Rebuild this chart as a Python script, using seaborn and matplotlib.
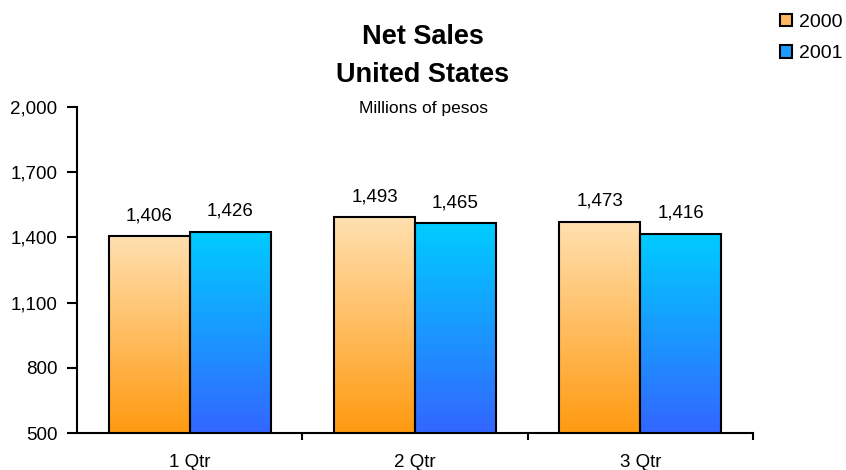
import numpy as np
import pandas as pd
import matplotlib
matplotlib.use("Agg")
import matplotlib.pyplot as plt
import seaborn as sns
from matplotlib.colors import LinearSegmentedColormap
from matplotlib.patches import Patch

quarters = ["1 Qtr", "2 Qtr", "3 Qtr"]
years = ["2000", "2001"]
sales_2000 = [1406, 1493, 1473]
sales_2001 = [1426, 1465, 1416]
yticks = [500, 800, 1100, 1400, 1700, 2000]

df = pd.DataFrame({
    "quarter": quarters * 2,
    "year": [years[0]] * 3 + [years[1]] * 3,
    "sales": sales_2000 + sales_2001,
})

sns.set_style("white")
plt.rcParams["font.family"] = ["Liberation Sans", "DejaVu Sans"]
plt.rcParams["text.color"] = "black"
plt.rcParams["axes.labelcolor"] = "black"
plt.rcParams["xtick.color"] = "black"
plt.rcParams["ytick.color"] = "black"

grad = {
    "2000": ("#FFE0B0", "#FF9A10"),
    "2001": ("#00CCFF", "#3366FF"),
}
mid = {"2000": "#FFB860", "2001": "#1E9BFF"}

fig = plt.figure(figsize=(8.46, 4.70), dpi=100)
ax = fig.add_axes([77 / 846, 37 / 470, (753 - 77) / 846, (433 - 107) / 470])

sns.barplot(data=df, x="quarter", y="sales", hue="year", hue_order=years,
            order=quarters, palette=mid, width=0.72, gap=0, dodge=True,
            edgecolor="black", linewidth=1.5, ax=ax, legend=False, errorbar=None)

ax.set_ylim(500, 2000)
ax.set_xlim(-0.5, 2.5)

# gradient fills
ymin = 500
for container, yr in zip(ax.containers, years):
    cmap = LinearSegmentedColormap.from_list("g" + yr, [grad[yr][1], grad[yr][0]])
    for bar in container:
        x0 = bar.get_x()
        w = bar.get_width()
        h = bar.get_height()
        img = np.linspace(0, 1, 256).reshape(-1, 1)
        im = ax.imshow(img, cmap=cmap, origin="lower", aspect="auto",
                       extent=[x0, x0 + w, ymin, h], zorder=bar.get_zorder() - 0.1,
                       interpolation="bicubic")
        im.set_clip_path(bar)
        bar.set_facecolor("none")
    ax.set_xlim(-0.5, 2.5)
    ax.set_ylim(500, 2000)
    for bar in container:
        ax.annotate(f"{int(bar.get_height()):,}",
                    xy=(bar.get_x() + bar.get_width() / 2, bar.get_height()),
                    xytext=(0, 16), textcoords="offset pixels",
                    ha="center", va="baseline", fontsize=13.5, color="black")

ax.set_xlim(-0.5, 2.5)
ax.set_ylim(500, 2000)

# axes styling
for s in ["top", "right"]:
    ax.spines[s].set_visible(False)
for s in ["left", "bottom"]:
    ax.spines[s].set_color("black")
    ax.spines[s].set_linewidth(1.5)

ax.set_yticks(yticks)
ax.set_yticklabels([f"{v:,}" for v in yticks])
ax.tick_params(axis="y", direction="out", length=7, width=1.5, color="black",
               pad=7, labelsize=13.5, left=True, labelcolor="black")

ax.set_xticks([0.5, 1.5, 2.5])
ax.set_xticklabels([])
ax.set_xticks([0, 1, 2], minor=True)
ax.set_xticklabels(quarters, minor=True)
ax.tick_params(axis="x", which="major", direction="out", length=5, width=1.5,
               color="black", bottom=True)
ax.tick_params(axis="x", which="minor", length=0, pad=15, labelsize=13.5,
               labelcolor="black")
ax.set_xlabel("")
ax.set_ylabel("")

# titles
fig.text(0.5, 1 - 37 / 470, "Net Sales", ha="center", va="center",
         fontsize=19.5, fontweight="bold", color="black")
fig.text(0.5, 1 - 75 / 470, "United States", ha="center", va="center",
         fontsize=19.5, fontweight="bold", color="black")
fig.text(0.5, 1 - 108 / 470, "Millions of pesos", ha="center", va="center",
         fontsize=12.5, color="black")

# legend
handles = [Patch(facecolor=mid[y], edgecolor="black", linewidth=1.5, label=y) for y in years]
fig.legend(handles=handles, loc="upper right", bbox_to_anchor=(1.0 + 10 / 846, 1.0),
           frameon=False, fontsize=14, handlelength=0.6, handleheight=0.6,
           handletextpad=0.35, labelspacing=0.75, borderaxespad=0.3,
           labelcolor="black")

fig.savefig("out.png", dpi=100)
